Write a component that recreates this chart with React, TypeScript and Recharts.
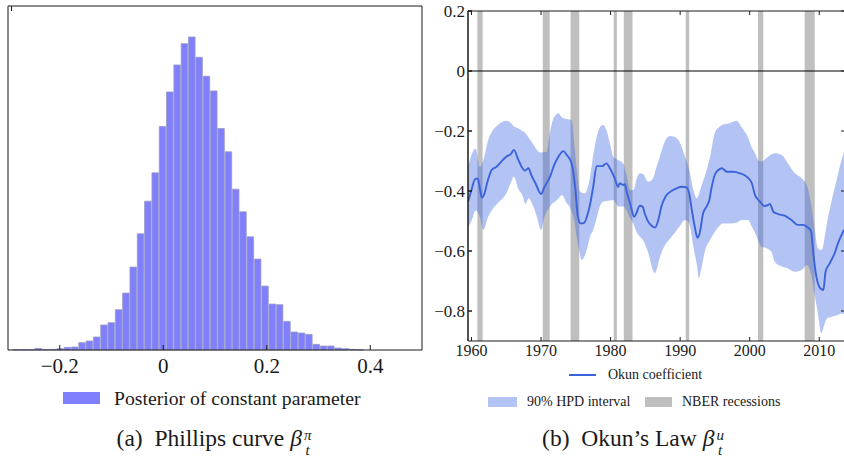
import React from "react";
import {
  ComposedChart,
  Bar,
  Area,
  Line,
  XAxis,
  YAxis,
  ReferenceArea,
  ReferenceLine,
} from "recharts";

// (a) histogram of the posterior draws
const binCenters = [
  -0.2835, -0.2694, -0.2552, -0.2411, -0.2269, -0.2128, -0.1987, -0.1845,
  -0.1704, -0.1562, -0.1421, -0.128, -0.1138, -0.0997, -0.0855, -0.0714,
  -0.0573, -0.0431, -0.029, -0.0148, -0.0007, 0.0134, 0.0276, 0.0417,
  0.0559, 0.07, 0.0841, 0.0983, 0.1124, 0.1266, 0.1407, 0.1548,
  0.169, 0.1831, 0.1973, 0.2114, 0.2255, 0.2397, 0.2538, 0.268,
  0.2821, 0.2963, 0.3104, 0.3245, 0.3387, 0.3528, 0.367, 0.3811,
];
const binCounts = [
  1, 1, 1, 5, 2, 2, 4, 8, 9, 22, 27, 39, 75, 82, 121, 171, 249, 349, 447, 532,
  671, 775, 856, 920, 940, 879, 822, 778, 665, 595, 483, 415, 340, 273, 192,
  138, 136, 86, 54, 51, 47, 17, 12, 12, 6, 4, 2, 1,
];
const phillipsTicks = [-0.2, 0, 0.2, 0.4];

// (b) Okun coefficient, median path
const okunYears = [
  1959.5, 1960.0, 1960.5, 1960.9, 1961.2, 1961.5, 1961.8, 1962.3, 1962.9, 1963.6,
  1964.3, 1965.0, 1965.65, 1966.1, 1966.7, 1967.2, 1967.7, 1968.2, 1968.6, 1969.2,
  1970.0, 1970.5, 1971.3, 1971.9, 1972.5, 1973.2, 1973.7, 1974.4, 1974.9, 1975.3,
  1975.7, 1976.2, 1976.8, 1977.0, 1977.5, 1978.0, 1978.8, 1979.4, 1979.9, 1980.6,
  1981.1, 1981.3, 1981.8, 1982.05, 1982.3, 1982.8, 1983.4, 1983.7, 1984.2, 1984.6,
  1984.9, 1985.4, 1985.9, 1986.4, 1986.85, 1987.3, 1987.95, 1988.8, 1989.5, 1990.2,
  1990.9, 1991.3, 1991.6, 1992.1, 1992.5, 1992.8, 1993.3, 1993.8, 1994.2, 1994.5,
  1995.0, 1995.5, 1996.0, 1996.7, 1997.6, 1998.6, 1999.55, 2000.3, 2000.75, 2001.5,
  2002.1, 2002.6, 2002.9, 2003.4, 2004.1, 2005.1, 2006.0, 2006.9, 2007.7, 2008.3,
  2008.8, 2009.1, 2009.5, 2010.0, 2010.6, 2010.9, 2011.5, 2012.2, 2012.7, 2013.55,
];
const okunCoef = [
  -0.436, -0.397, -0.361, -0.358, -0.391, -0.422, -0.413, -0.369, -0.33, -0.319,
  -0.302, -0.286, -0.277, -0.263, -0.294, -0.319, -0.332, -0.324, -0.347, -0.374,
  -0.41, -0.386, -0.352, -0.313, -0.286, -0.267, -0.28, -0.308, -0.386, -0.486,
  -0.508, -0.506, -0.469, -0.45, -0.386, -0.317, -0.317, -0.308, -0.324, -0.358,
  -0.386, -0.374, -0.38, -0.377, -0.402, -0.441, -0.486, -0.474, -0.449, -0.452,
  -0.474, -0.502, -0.516, -0.522, -0.497, -0.452, -0.417, -0.399, -0.391, -0.386,
  -0.388, -0.408, -0.452, -0.519, -0.556, -0.541, -0.474, -0.452, -0.43, -0.391,
  -0.345, -0.33, -0.324, -0.336, -0.336, -0.341, -0.352, -0.374, -0.413, -0.436,
  -0.45, -0.447, -0.443, -0.469, -0.477, -0.483, -0.497, -0.513, -0.513, -0.521,
  -0.532, -0.597, -0.674, -0.719, -0.73, -0.669, -0.641, -0.608, -0.574, -0.53,
];

// (b) 90% HPD interval
const hpdYears = [
  1959.5, 1960.0, 1960.6, 1961.2, 1961.7, 1962.4, 1963.1, 1963.8, 1965.0, 1965.7,
  1966.1, 1966.7, 1967.3, 1967.8, 1968.2, 1968.9, 1969.4, 1970.0, 1970.5, 1970.8,
  1971.3, 1971.7, 1972.0, 1972.5, 1973.0, 1973.7, 1974.1, 1974.4, 1974.8, 1975.1,
  1975.6, 1975.8, 1976.3, 1976.8, 1977.0, 1977.5, 1978.0, 1978.4, 1978.9, 1979.4,
  1979.9, 1980.4, 1981.1, 1981.8, 1982.3, 1982.8, 1983.3, 1983.7, 1984.2, 1984.7,
  1985.4, 1986.1, 1986.3, 1986.6, 1987.1, 1987.6, 1988.5, 1989.2, 1990.0, 1990.7,
  1991.3, 1991.9, 1992.4, 1992.7, 1993.1, 1993.6, 1994.3, 1995.0, 1995.7, 1996.0,
  1997.1, 1998.1, 1998.8, 1999.8, 2000.3, 2000.8, 2001.2, 2001.7, 2002.4, 2003.1,
  2003.6, 2004.6, 2005.5, 2006.5, 2007.5, 2008.2, 2008.8, 2009.3, 2009.8, 2010.3,
  2010.6, 2010.8, 2011.1, 2011.8, 2012.5, 2013.2, 2013.7,
];
const hpdLower = [
  -0.52, -0.5, -0.465, -0.486, -0.53, -0.486, -0.458, -0.44, -0.408, -0.37,
  -0.352, -0.391, -0.413, -0.443, -0.424, -0.452, -0.486, -0.53, -0.486, -0.47,
  -0.452, -0.44, -0.436, -0.425, -0.413, -0.441, -0.452, -0.47, -0.5, -0.55,
  -0.61, -0.63, -0.615, -0.575, -0.555, -0.53, -0.49, -0.455, -0.436, -0.433,
  -0.432, -0.43, -0.452, -0.452, -0.465, -0.49, -0.51, -0.536, -0.552, -0.565,
  -0.605, -0.665, -0.674, -0.663, -0.619, -0.59, -0.56, -0.54, -0.515, -0.497,
  -0.508, -0.586, -0.647, -0.691, -0.652, -0.597, -0.563, -0.535, -0.515, -0.508,
  -0.508, -0.506, -0.497, -0.497, -0.519, -0.541, -0.565, -0.586, -0.591, -0.602,
  -0.636, -0.652, -0.658, -0.669, -0.663, -0.647, -0.674, -0.741, -0.808, -0.874,
  -0.855, -0.841, -0.825, -0.819, -0.815, -0.808, -0.813,
];
const hpdUpper = [
  -0.32, -0.28, -0.258, -0.32, -0.297, -0.23, -0.197, -0.18, -0.166, -0.174,
  -0.185, -0.191, -0.2, -0.208, -0.222, -0.245, -0.263, -0.272, -0.27, -0.269,
  -0.202, -0.163, -0.15, -0.141, -0.155, -0.16, -0.162, -0.163, -0.252, -0.319,
  -0.402, -0.405, -0.408, -0.38, -0.36, -0.28, -0.22, -0.19, -0.18, -0.197,
  -0.241, -0.286, -0.297, -0.308, -0.347, -0.397, -0.397, -0.363, -0.341, -0.344,
  -0.369, -0.358, -0.345, -0.32, -0.285, -0.247, -0.217, -0.219, -0.241, -0.286,
  -0.33, -0.397, -0.424, -0.41, -0.38, -0.347, -0.286, -0.205, -0.185, -0.18,
  -0.174, -0.166, -0.186, -0.224, -0.255, -0.275, -0.297, -0.302, -0.29, -0.278,
  -0.274, -0.28, -0.308, -0.341, -0.358, -0.38, -0.441, -0.519, -0.591, -0.597,
  -0.58, -0.55, -0.508, -0.43, -0.363, -0.297, -0.263,
];

// NBER recessions as drawn
const recessionStart = [1960.85, 1970.25, 1974.25, 1980.45, 1981.9, 1990.8, 2001.2, 2007.9];
const recessionEnd = [1961.6, 1971.25, 1975.5, 1980.9, 1983.15, 1991.3, 2001.95, 2009.35];
const yearTicks = [1960, 1970, 1980, 1990, 2000, 2010];
const okunTicks = [-0.8, -0.6, -0.4, -0.2, 0, 0.2];

const serif =
  '"Liberation Serif", "Times New Roman", Tinos, "DejaVu Serif", "Noto Serif", FreeSerif, serif';
const ink = "#1a1a1a";

const fmt = (v: number) => (v < 0 ? "\u2212" + Math.abs(v) : String(v));
const noTick = () => <g />;

const histData = binCenters.map((x, i) => ({ x, count: binCounts[i] }));
const okunData = okunYears.map((year, i) => ({ year, v: okunCoef[i] }));
const hpdData = hpdYears.map((year, i) => ({ year, range: [hpdLower[i], hpdUpper[i]] }));

// β with stacked superscript / subscript
const Beta = ({ sup, sub }: { sup: string; sub: string }) => (
  <span>
    <span style={{ fontStyle: "italic" }}>β</span>
    <span
      style={{
        display: "inline-flex",
        flexDirection: "column",
        fontSize: "0.64em",
        lineHeight: 1.05,
        verticalAlign: "0.42em",
        fontStyle: "italic",
        marginLeft: 2,
      }}
    >
      <span>{sup}</span>
      <span>{sub}</span>
    </span>
  </span>
);

const abs = (left: number, top: number): React.CSSProperties => ({
  position: "absolute",
  left,
  top,
});

export default function App() {
  return (
    <div
      style={{
        position: "absolute",
        left: 0,
        top: 0,
        width: 844,
        height: 457,
        overflow: "hidden",
        background: "#fff",
        fontFamily: serif,
        color: ink,
      }}
    >
      <div style={abs(0, 0)}>
        <ComposedChart
          width={430}
          height={380}
          data={histData}
          margin={{ top: 5, right: 7, bottom: 0, left: 7 }}
          barCategoryGap={0}
        >
          <XAxis
            dataKey="x"
            type="number"
            domain={[-0.3, 0.5]}
            ticks={phillipsTicks}
            tickFormatter={fmt}
            tickSize={-5}
            tickMargin={13}
            height={30}
            stroke={ink}
            allowDataOverflow
            tick={{ fill: ink, fontSize: 21, fontFamily: serif }}
          />
          <XAxis
            xAxisId="top"
            orientation="top"
            type="number"
            domain={[-0.3, 0.5]}
            ticks={phillipsTicks}
            tick={noTick}
            tickSize={-5}
            height={1}
            stroke={ink}
            allowDataOverflow
          />
          <YAxis domain={[0, 1033]} width={1} tick={false} tickLine={false} stroke={ink} />
          <YAxis
            yAxisId="right"
            orientation="right"
            domain={[0, 1]}
            width={1}
            tick={false}
            tickLine={false}
            stroke={ink}
          />
          <Bar
            dataKey="count"
            fill="#8080ff"
            stroke="#9a9ac4"
            strokeWidth={0.8}
            barSize={7.33}
            isAnimationActive={false}
          />
        </ComposedChart>
      </div>

      <div style={abs(420, 0)}>
        <ComposedChart width={430} height={371} margin={{ top: 10, right: 4, bottom: 0, left: 0 }}>
          <XAxis
            dataKey="year"
            type="number"
            domain={[1959.5, 2013.7]}
            ticks={yearTicks}
            tickSize={-4}
            tickMargin={8}
            height={30}
            stroke={ink}
            allowDataOverflow
            tick={{ fill: ink, fontSize: 16, fontFamily: serif }}
          />
          <XAxis
            xAxisId="top"
            orientation="top"
            dataKey="year"
            type="number"
            domain={[1959.5, 2013.7]}
            ticks={yearTicks}
            tick={noTick}
            tickSize={-4}
            height={1}
            stroke={ink}
            allowDataOverflow
          />
          <YAxis
            type="number"
            domain={[-0.9, 0.2]}
            ticks={okunTicks}
            tickFormatter={fmt}
            tickSize={-4}
            tickMargin={7}
            width={48}
            stroke={ink}
            strokeWidth={1.5}
            allowDataOverflow
            tick={{ fill: ink, fontSize: 17, fontFamily: serif }}
          />
          <YAxis
            yAxisId="right"
            orientation="right"
            type="number"
            domain={[-0.9, 0.2]}
            ticks={okunTicks}
            tick={noTick}
            tickSize={-4}
            width={1}
            stroke={ink}
            allowDataOverflow
          />
          {recessionStart.map((s, i) => (
            <ReferenceArea
              key={s}
              x1={s}
              x2={recessionEnd[i]}
              y1={-0.9}
              y2={0.2}
              fill="#bfbfbf"
              fillOpacity={1}
              stroke="none"
              ifOverflow="hidden"
            />
          ))}
          <ReferenceLine y={0} stroke="#000" strokeWidth={1.2} />
          <Area
            data={hpdData}
            dataKey="range"
            type="monotone"
            fill="#4169e1"
            fillOpacity={0.4}
            stroke="none"
            isAnimationActive={false}
          />
          <Line
            data={okunData}
            dataKey="v"
            type="monotone"
            stroke="#3b63dc"
            strokeWidth={1.9}
            dot={false}
            isAnimationActive={false}
          />
        </ComposedChart>
      </div>

      {/* legend (a) */}
      <div style={{ ...abs(63, 392), width: 37, height: 12, background: "#8080ff" }} />
      <div style={{ ...abs(114, 387), fontSize: 19.7, lineHeight: "22px", whiteSpace: "nowrap" }}>
        Posterior of constant parameter
      </div>

      {/* legend (b) */}
      <div style={{ ...abs(569, 374), width: 27, height: 2, background: "#3b63dc" }} />
      <div style={{ ...abs(608, 366), fontSize: 14, lineHeight: "18px", whiteSpace: "nowrap" }}>
        Okun coefficient
      </div>
      <div style={{ ...abs(488, 397), width: 29, height: 10, background: "rgba(65,105,225,0.4)" }} />
      <div style={{ ...abs(527, 393), fontSize: 14, lineHeight: "18px", whiteSpace: "nowrap" }}>
        90% HPD interval
      </div>
      <div style={{ ...abs(645, 397), width: 27, height: 10, background: "#bfbfbf" }} />
      <div style={{ ...abs(682, 393), fontSize: 14, lineHeight: "18px", whiteSpace: "nowrap" }}>
        NBER recessions
      </div>

      {/* captions */}
      <div
        style={{
          ...abs(14, 424),
          width: 400,
          textAlign: "center",
          fontSize: 23.5,
          lineHeight: "28px",
          whiteSpace: "nowrap",
        }}
      >
        (a)&nbsp; Phillips curve <Beta sup="π" sub="t" />
      </div>
      <div
        style={{
          ...abs(433, 424),
          width: 400,
          textAlign: "center",
          fontSize: 23.5,
          lineHeight: "28px",
          whiteSpace: "nowrap",
        }}
      >
        (b)&nbsp; Okun’s Law <Beta sup="u" sub="t" />
      </div>
    </div>
  );
}
